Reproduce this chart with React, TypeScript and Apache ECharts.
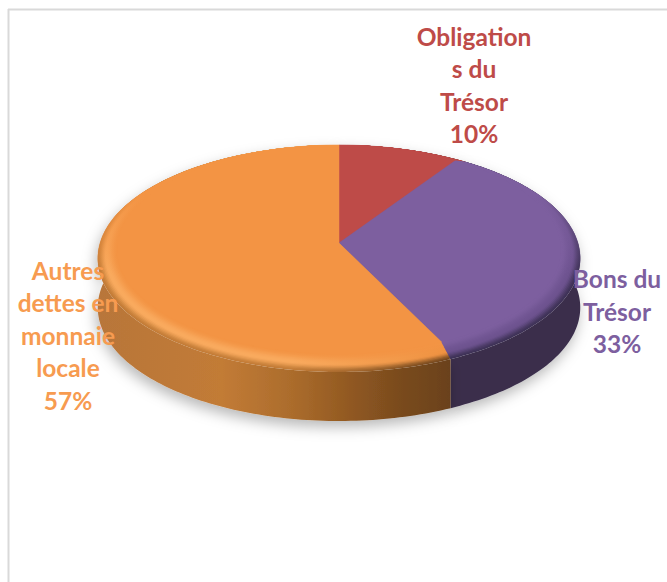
import React, { useEffect, useRef } from "react";
import * as echarts from "echarts";

const sliceNames = ["Obligation\ns du\nTrésor", "Bons du\nTrésor", "Autres\ndettes en\nmonnaie\nlocale"];
const sliceValues = [10, 33.3, 56.7];
const faceColors = ["#BE4B48", "#7D5F9F", "#F39444"];
const labelColors = ["#BE4B48", "#7D5F9F", "#F79B50"];
const rimLeft = [
  ["#BE4B48", "#B04542", "#8C3634"],
  ["#7D5F9F", "#6E5390", "#3D3155"],
  ["#F39444", "#F9AA5E", "#C27B36"],
];
const rimRight = [
  ["#BE4B48", "#B04542", "#8C3634"],
  ["#7D5F9F", "#6E5390", "#3D3155"],
  ["#F39444", "#EF9140", "#6C421B"],
];
const sideStops = [
  [[0, "#7E3230"], [1, "#7E3230"]],
  [[0, "#2F2640"], [0.7, "#352A47"], [1, "#3A2E4C"]],
  [[0, "#B8763A"], [0.35, "#C27B36"], [0.55, "#AB6C2C"], [0.7, "#935A22"], [0.85, "#7A4B1E"], [1, "#6A411B"]],
];
const labelAnchors = [[474, 85], [617, 311], [68, 335]];

const CX = 339, CY = 243, AX = 239, BY = 111.4, PERSP = 0.1365, DEPTH = 49, TOP_Y = 145;
const BANDS = 16, RIM = 0.08;

function project(theta: number, shrink = 1, drop = 0): number[] {
  const u = Math.sin(theta), w = Math.cos(theta), den = 1 + PERSP * w;
  const x = CX + (AX * u) / den;
  const y = CY - (BY * w) / den;
  return [CX + (x - CX) * shrink, TOP_Y + (y - TOP_Y) * shrink + drop];
}

function arc(a0: number, a1: number, shrink = 1, drop = 0): number[][] {
  const n = Math.max(4, Math.ceil((a1 - a0) / 0.02));
  const pts: number[][] = [];
  for (let i = 0; i <= n; i++) pts.push(project(a0 + ((a1 - a0) * i) / n, shrink, drop));
  return pts;
}

function mix(c1: string, c2: string, t: number): string {
  const p = (c: string) => [1, 3, 5].map((i) => parseInt(c.slice(i, i + 2), 16));
  const a = p(c1), b = p(c2);
  const out = a.map((v, i) => Math.round(v + (b[i] - v) * t));
  return "#" + out.map((v) => v.toString(16).padStart(2, "0")).join("");
}

function smooth(t: number): number {
  return t * t * (3 - 2 * t);
}

function bandColor(stops: string[], t: number): string {
  return t < 0.55 ? mix(stops[0], stops[1], smooth(t / 0.55)) : mix(stops[1], stops[2], smooth((t - 0.55) / 0.45));
}

function renderItem(params: any, api: any) {
  const i = params.dataIndex;
  const total = sliceValues.reduce((s, v) => s + v, 0);
  const before = sliceValues.slice(0, i).reduce((s, v) => s + v, 0);
  const a0 = (before / total) * Math.PI * 2;
  const a1 = ((before + api.value(0)) / total) * Math.PI * 2;
  const children: any[] = [];

  const top = arc(a0, a1);
  const bottom = arc(a0, a1, 1, DEPTH);
  children.push({
    type: "polygon",
    z2: 1,
    shape: { points: [...top, ...bottom.reverse()] },
    style: {
      fill: new echarts.graphic.LinearGradient(
        98, 0, 452, 0,
        sideStops[i].map(([offset, color]) => ({ offset: offset as number, color: color as string })),
        true
      ),
      shadowBlur: 14,
      shadowColor: "rgba(0,0,0,0.28)",
      shadowOffsetX: -2,
      shadowOffsetY: 6,
    },
  });

  // Nested wedges, outermost first, so the rim has no seams.
  for (let b = BANDS - 1; b >= 0; b--) {
    const s = 1 - RIM + (RIM * (b + 1)) / BANDS;
    const t = (b + 0.5) / BANDS;
    const left = bandColor(rimLeft[i], t);
    const right = bandColor(rimRight[i], t);
    children.push({
      type: "polygon",
      z2: 10 + (BANDS - b),
      shape: { points: [[CX, CY], ...arc(a0, a1, s)] },
      style: {
        fill: new echarts.graphic.LinearGradient(
          98, 0, 452, 0,
          [
            { offset: 0, color: left },
            { offset: 0.55, color: left },
            { offset: 1, color: right },
          ],
          true
        ),
      },
    });
  }

  children.push({
    type: "polygon",
    z2: 30,
    shape: { points: [[CX, CY], ...arc(a0, a1, 1 - RIM)] },
    style: { fill: faceColors[i], stroke: faceColors[i], lineWidth: 0.5 },
  });

  children.push({
    type: "polygon",
    z2: 31,
    shape: { points: [...arc(a0, a1, 1 - RIM - 0.002), ...arc(a0, a1, 1.002).reverse()] },
    style: {
      fill: new echarts.graphic.LinearGradient(
        0, 195, 0, 275,
        [
          { offset: 0, color: faceColors[i] },
          { offset: 1, color: faceColors[i] + "00" },
        ],
        true
      ),
    },
  });

  const pct = Math.round((api.value(0) / total) * 100);
  children.push({
    type: "text",
    z2: 40,
    style: {
      text: `${sliceNames[i]}\n${pct}%`,
      x: labelAnchors[i][0],
      y: labelAnchors[i][1],
      align: "center",
      verticalAlign: "middle",
      fill: labelColors[i],
      fontFamily: "Lato",
      fontWeight: 700,
      fontSize: 24.5,
      lineHeight: 32.5,
    },
  });
  return { type: "group", children };
}

export default function App() {
  const ref = useRef<HTMLDivElement>(null);
  useEffect(() => {
    document.body.style.margin = "0";
    const chart = echarts.init(ref.current!, undefined, { renderer: "svg" });
    chart.setOption({
      animation: false,
      backgroundColor: "#ffffff",
      graphic: [
        { type: "line", shape: { x1: 8.5, y1: 9, x2: 8.5, y2: 582 }, style: { stroke: "#D9D9D9", lineWidth: 2 } },
        { type: "line", shape: { x1: 8, y1: 9.5, x2: 667, y2: 9.5 }, style: { stroke: "#D9D9D9", lineWidth: 2 } },
      ],
      series: [
        {
          type: "custom",
          coordinateSystem: "none",
          renderItem,
          data: sliceValues.map((v) => [v]),
          silent: true,
        },
      ],
    });
    return () => chart.dispose();
  }, []);
  return <div ref={ref} style={{ width: 667, height: 582 }} />;
}
